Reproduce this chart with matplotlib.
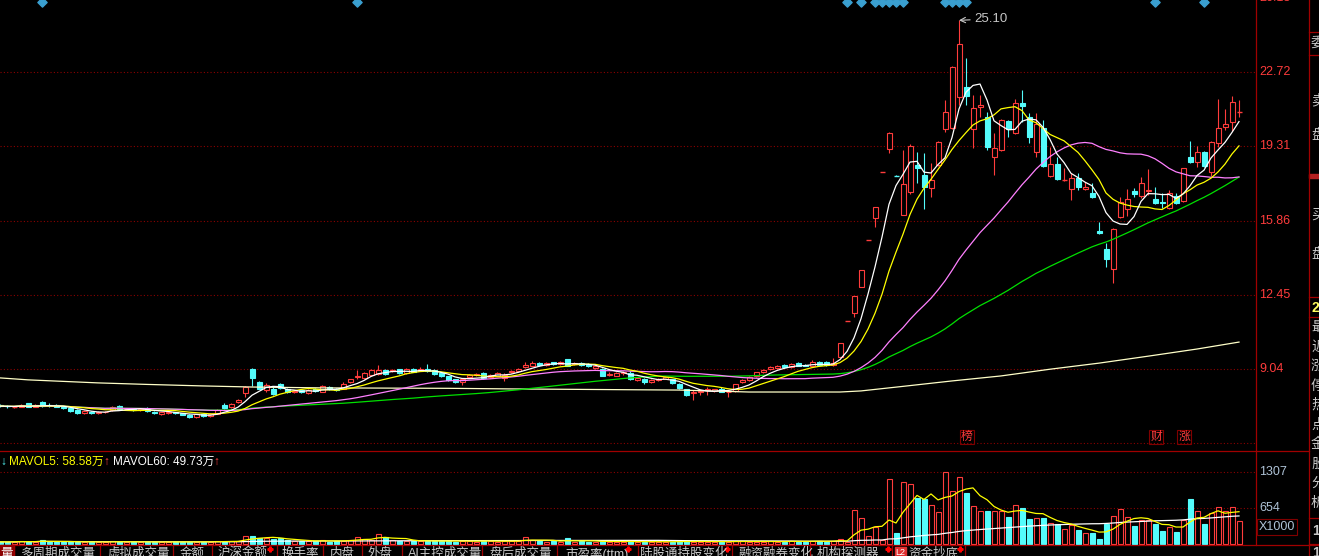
import matplotlib
matplotlib.use('Agg')
import matplotlib.pyplot as plt
from matplotlib.patches import Rectangle
import pandas as pd

plt.rcParams['font.family'] = ['Liberation Sans', 'Noto Sans CJK SC', 'DejaVu Sans']

# daily K-line data (price)
opens = [7.36, 7.33, 7.28, 7.30, 7.46, 7.31, 7.50, 7.40, 7.39, 7.31,
         7.25, 7.16, 7.02, 7.06, 7.00, 7.04, 7.14, 7.32, 7.18, 7.20,
         7.16, 7.22, 7.08, 6.98, 7.02, 7.05, 7.00, 6.94, 6.84, 6.96,
         6.88, 6.98, 7.36, 7.27, 7.50, 7.94, 9.05, 8.46, 8.06, 8.14,
         8.36, 8.14, 7.97, 8.06, 7.92, 8.12, 8.00, 8.20, 8.14, 8.14,
         8.42, 8.66, 8.64, 8.78, 8.80, 8.98, 8.96, 9.02, 8.84, 9.04,
         8.96, 9.06, 9.00, 8.86, 8.70, 8.56, 8.44, 8.68, 8.76, 8.86,
         8.68, 8.74, 8.64, 8.88, 8.96, 9.12, 9.20, 9.30, 9.22, 9.34,
         9.28, 9.50, 9.28, 9.32, 9.26, 9.08, 9.06, 8.76, 8.74, 8.84,
         8.86, 8.52, 8.60, 8.44, 8.52, 8.60, 8.56, 8.36, 8.12, 7.94,
         7.96, 8.06, 8.04, 8.14, 7.96, 8.04, 8.44, 8.54, 8.72, 8.88,
         9.02, 9.08, 9.22, 9.14, 9.30, 9.24, 9.20, 9.38, 9.36, 9.24,
         9.60, 11.25, 11.60, 12.80, 14.98, 15.99, 18.13, 19.18, 17.95, 16.15,
         17.19, 18.44, 17.98, 17.38, 18.44, 20.09, 20.14, 21.57, 22.03, 20.09,
         21.12, 20.65, 18.80, 19.13, 20.46, 19.91, 21.29, 20.65, 19.04, 20.14,
         17.93, 18.48, 17.74, 17.33, 17.84, 17.33, 17.15, 15.40, 14.57, 13.65,
         16.04, 16.41, 17.24, 17.01, 17.22, 16.87, 16.72, 16.46, 17.01, 16.78,
         18.80, 18.57, 19.04, 18.11, 19.45, 20.18, 20.42, 20.86]
highs = [7.42, 7.40, 7.34, 7.42, 7.47, 7.42, 7.56, 7.46, 7.44, 7.34,
         7.30, 7.20, 7.14, 7.10, 7.10, 7.12, 7.33, 7.36, 7.26, 7.24,
         7.26, 7.28, 7.12, 7.08, 7.08, 7.08, 7.03, 6.96, 6.99, 7.00,
         7.00, 7.18, 7.47, 7.46, 7.66, 8.26, 9.08, 8.50, 8.38, 8.20,
         8.40, 8.18, 8.08, 8.10, 8.12, 8.16, 8.30, 8.24, 8.18, 8.42,
         8.60, 9.00, 8.88, 9.02, 9.22, 9.04, 9.04, 9.06, 9.08, 9.08,
         9.12, 9.26, 9.02, 8.90, 8.72, 8.58, 8.62, 8.80, 8.84, 8.92,
         8.80, 8.90, 8.84, 9.00, 9.10, 9.36, 9.40, 9.34, 9.34, 9.38,
         9.42, 9.52, 9.36, 9.36, 9.30, 9.20, 9.10, 8.90, 8.90, 8.96,
         8.94, 8.66, 8.62, 8.56, 8.64, 8.72, 8.58, 8.40, 8.14, 8.08,
         8.08, 8.20, 8.14, 8.20, 8.04, 8.36, 8.58, 8.70, 8.92, 9.04,
         9.18, 9.22, 9.26, 9.30, 9.36, 9.28, 9.44, 9.42, 9.40, 9.56,
         10.25, 11.25, 12.38, 13.62, 14.98, 16.48, 18.13, 19.94, 17.96, 19.12,
         19.40, 19.04, 18.99, 18.53, 19.55, 21.43, 23.00, 25.10, 23.36, 21.66,
         21.66, 20.88, 19.91, 20.55, 20.51, 21.48, 21.89, 20.83, 20.83, 20.51,
         19.27, 18.80, 18.30, 18.07, 18.07, 17.65, 17.61, 15.81, 14.84, 15.52,
         16.96, 17.33, 17.38, 17.88, 18.25, 17.42, 17.15, 17.29, 17.15, 18.32,
         19.54, 19.31, 19.08, 19.54, 21.48, 21.02, 21.61, 21.43]
lows = [7.30, 7.25, 7.25, 7.27, 7.28, 7.28, 7.30, 7.30, 7.28, 7.22,
        7.08, 6.98, 6.98, 6.95, 6.96, 7.00, 7.12, 7.14, 7.14, 7.12,
        7.12, 7.05, 6.96, 6.90, 6.98, 6.96, 6.90, 6.76, 6.80, 6.85,
        6.85, 6.95, 7.22, 7.24, 7.46, 7.75, 8.26, 8.10, 8.00, 7.86,
        8.12, 7.94, 7.93, 7.94, 7.88, 8.00, 7.96, 8.08, 8.02, 8.10,
        8.38, 8.60, 8.58, 8.72, 8.76, 8.78, 8.92, 8.82, 8.80, 8.90,
        8.94, 8.90, 8.76, 8.66, 8.48, 8.38, 8.30, 8.64, 8.72, 8.58,
        8.62, 8.70, 8.50, 8.84, 8.92, 9.08, 9.16, 9.20, 9.18, 9.22,
        9.24, 9.18, 9.24, 9.20, 9.12, 9.02, 8.70, 8.70, 8.70, 8.78,
        8.52, 8.48, 8.36, 8.40, 8.48, 8.56, 8.36, 8.12, 7.80, 7.62,
        7.84, 7.82, 8.00, 7.96, 7.74, 8.00, 8.40, 8.50, 8.68, 8.84,
        8.98, 9.04, 9.10, 9.10, 9.16, 9.16, 9.16, 9.20, 9.20, 9.20,
        9.58, 11.25, 11.45, 12.80, 14.98, 15.58, 18.13, 18.98, 17.92, 16.15,
        17.10, 17.61, 16.41, 16.96, 18.40, 19.96, 20.10, 21.20, 21.20, 19.22,
        20.64, 19.13, 17.98, 19.10, 19.73, 19.88, 20.42, 19.45, 18.80, 18.35,
        17.88, 17.75, 17.70, 16.82, 17.28, 17.28, 16.92, 15.26, 13.74, 13.00,
        15.99, 16.09, 16.96, 16.92, 17.05, 16.66, 16.46, 16.41, 16.64, 16.72,
        18.53, 18.34, 18.34, 17.93, 19.27, 20.05, 20.00, 20.65]
closes = [7.33, 7.31, 7.31, 7.38, 7.30, 7.38, 7.34, 7.36, 7.31, 7.26,
          7.12, 7.02, 7.10, 7.00, 7.06, 7.08, 7.29, 7.18, 7.20, 7.16,
          7.22, 7.10, 7.01, 7.04, 7.05, 7.00, 6.93, 6.82, 6.96, 6.88,
          6.96, 7.15, 7.26, 7.42, 7.62, 8.22, 8.64, 8.14, 8.30, 7.90,
          8.16, 7.96, 8.04, 7.98, 8.06, 8.03, 8.26, 8.12, 8.06, 8.36,
          8.56, 8.74, 8.84, 8.98, 8.98, 8.82, 9.00, 8.86, 9.02, 8.92,
          9.06, 8.94, 8.80, 8.70, 8.52, 8.42, 8.58, 8.76, 8.80, 8.64,
          8.76, 8.86, 8.78, 8.96, 9.06, 9.24, 9.32, 9.24, 9.30, 9.26,
          9.36, 9.20, 9.32, 9.24, 9.16, 9.16, 8.72, 8.80, 8.86, 8.90,
          8.58, 8.62, 8.44, 8.52, 8.60, 8.68, 8.40, 8.16, 7.84, 7.98,
          8.04, 8.10, 8.10, 8.00, 8.00, 8.34, 8.52, 8.66, 8.88, 9.00,
          9.14, 9.18, 9.14, 9.26, 9.20, 9.20, 9.38, 9.24, 9.22, 9.30,
          10.23, 11.25, 12.38, 13.62, 14.98, 16.48, 18.13, 19.92, 17.94, 17.56,
          19.31, 18.30, 17.42, 17.75, 19.50, 20.88, 22.95, 24.01, 21.61, 21.06,
          21.20, 19.27, 19.22, 20.51, 20.09, 21.29, 21.15, 19.73, 20.32, 18.39,
          18.48, 17.79, 17.76, 17.84, 17.42, 17.42, 16.96, 15.30, 14.11, 15.49,
          16.73, 16.87, 17.10, 17.61, 17.28, 16.69, 16.68, 17.15, 16.69, 18.30,
          18.57, 19.04, 18.39, 19.50, 20.14, 20.32, 21.34, 20.88]
# volume in x1000
volumes = [40, 35, 45, 50, 40, 45, 70, 45, 40, 35,
           40, 45, 35, 40, 30, 35, 55, 45, 35, 30,
           35, 40, 45, 35, 30, 30, 40, 45, 40, 35,
           35, 50, 45, 50, 60, 150, 150, 110, 100, 95,
           100, 70, 55, 50, 55, 50, 75, 45, 50, 60,
           80, 130, 90, 70, 180, 130, 70, 60, 55, 50,
           55, 60, 50, 55, 50, 45, 60, 55, 45, 60,
           50, 45, 55, 50, 60, 120, 70, 55, 45, 50,
           45, 100, 45, 50, 45, 40, 60, 40, 45, 40,
           50, 40, 45, 40, 35, 40, 45, 50, 55, 45,
           40, 45, 40, 45, 40, 55, 50, 45, 40, 45,
           50, 45, 40, 60, 45, 40, 60, 55, 45, 55,
           90, 30, 610, 470, 145, 310, 70, 1180, 200, 1120,
           1080, 830, 810, 700, 580, 1307, 960, 1210, 925, 690,
           600, 590, 600, 600, 490, 710, 650, 450, 470, 470,
           380, 360, 270, 340, 250, 200, 200, 90, 360, 500,
           630, 490, 330, 430, 430, 360, 230, 300, 220, 430,
           810, 600, 360, 560, 680, 590, 680, 420]
# long moving average (MA250) read at a few points
ma250_idx = [0, 4, 9, 14, 21, 29, 36, 46, 64, 74, 97, 107, 120, 123, 129, 136, 143, 150, 157, 164, 171, 177]
ma250_val = [8.63, 8.54, 8.47, 8.40, 8.33, 8.26, 8.21, 8.17, 8.15, 8.12, 8.07, 7.98, 7.98, 8.03, 8.24, 8.49, 8.72, 9.03, 9.31, 9.63, 9.96, 10.28]
signal_idx = [6, 51, 121, 123, 125, 126, 127, 128, 129, 135, 136, 137, 138, 165, 172]
price_grid = [26.13, 22.72, 19.31, 15.86, 12.45, 9.04, 5.63]
vol_grid = [1307, 654]
tabs = ['多周期成交量', '虚拟成交量', '金额', '沪深金额', '换手率', '内盘', '外盘',
        'AI主控成交量', '盘后成交量', '市盈率(ttm)', '陆股通持股变化', '融资融券变化',
        '机构探测器', '资金抄底']
tab_x = [20, 107, 180, 218, 282, 330, 368, 408, 490, 565, 640, 738, 817, 908]
tab_sep = [14, 100, 173, 212, 277, 323, 362, 402, 482, 557, 638, 732, 810, 892, 965]
tab_dots = [270, 628, 727, 888, 960]
sidebar = ['委', '卖', '盘', '买', '盘']
sidebar_y = [44, 100, 135, 215, 254]

RED = '#FF3C3C'
CYAN = '#54FCFC'
GRID = '#8C0000'
FRAME = '#A00000'
W, H = 1319, 556
n = len(closes)

fig = plt.figure(figsize=(W / 100, H / 100), dpi=100, facecolor='black')
ax = fig.add_axes([0, 1 - 451 / H, 1256 / W, 451 / H], facecolor='black')
axv = fig.add_axes([0, 1 - 545 / H, 1256 / W, 94 / H], facecolor='black')
ov = fig.add_axes([0, 0, 1, 1])
ov.set_xlim(0, W)
ov.set_ylim(H, 0)
ov.patch.set_alpha(0)
for a in (ax, axv, ov):
    a.axis('off')

xmax = 1256 / 7
ax.set_xlim(0, xmax)
ax.set_ylim(5.263, 26.036)
axv.set_xlim(0, xmax)
axv.set_ylim(-18, 1687)

for p in price_grid:
    ax.axhline(p, color=GRID, lw=0.8, ls=(0, (1, 2)), zorder=1)
for v in vol_grid:
    axv.axhline(v, color=GRID, lw=0.8, ls=(0, (1, 2)), zorder=1)

# candles
bw = 5 / 7
for i in range(n):
    o, h, l, c = opens[i], highs[i], lows[i], closes[i]
    up = c >= o
    col = RED if up else CYAN
    ax.vlines(i, l, h, color=col, lw=0.8, zorder=2)
    lo, hi = min(o, c), max(o, c)
    if hi - lo < 0.03:
        ax.hlines((o + c) / 2, i - bw / 2, i + bw / 2, color=col, lw=1.0, zorder=3)
    else:
        ax.add_patch(Rectangle((i - bw / 2, lo), bw, hi - lo, facecolor='black' if up else CYAN,
                               edgecolor=col, lw=0.8, zorder=3))
    vol = volumes[i]
    axv.add_patch(Rectangle((i - bw / 2, 0), bw, vol, facecolor='black' if up else CYAN,
                            edgecolor=col, lw=0.8, zorder=2))

s = pd.Series(closes)
idx = list(range(n))
ax.plot(ma250_idx, ma250_val, color='#FFFFC8', lw=0.9, zorder=4)
ax.plot(idx, s.rolling(60, min_periods=1).mean(), color='#00E000', lw=0.9, zorder=4)
ax.plot(idx, s.rolling(30, min_periods=1).mean(), color='#FF80FF', lw=0.9, zorder=4)
ax.plot(idx, s.rolling(10, min_periods=1).mean(), color='#FFFF00', lw=0.9, zorder=4)
ax.plot(idx, s.rolling(5, min_periods=1).mean(), color='white', lw=0.9, zorder=4)

vs = pd.Series(volumes)
axv.plot(idx, vs.rolling(60, min_periods=1).mean(), color='white', lw=0.9, zorder=3)
axv.plot(idx, vs.rolling(5, min_periods=1).mean(), color='#FFFF00', lw=0.9, zorder=3)

# high marker
hi_i = highs.index(max(highs))
ax.annotate('%.2f' % max(highs), xy=(hi_i, max(highs)), xytext=(11, 1), textcoords='offset points',
            color='#C8C8C8', fontsize=9.5, va='center', ha='left',
            arrowprops=dict(arrowstyle='->', color='#C8C8C8', lw=0.8, shrinkA=1, shrinkB=0))

# signal diamonds along the top
ov.scatter([7 * i for i in signal_idx], [2] * len(signal_idx), marker='D', s=22, color='#3A9FD0', zorder=6)

# event tags at the bottom of the price panel
for t, x in [('榜', 967), ('财', 1156), ('涨', 1184)]:
    ov.text(x, 437, t, color=RED, fontsize=8.5, ha='center', va='center',
            bbox=dict(boxstyle='square,pad=0.1', fc='none', ec='#800000', lw=0.8))

# frame lines
def hline(y, x0, x1, c=FRAME):
    ov.plot([x0, x1], [y, y], color=c, lw=0.9)

def vline(x, y0, y1, c=FRAME):
    ov.plot([x, x], [y0, y1], color=c, lw=0.9)

vline(1256, 0, 545)
hline(451, 0, 1309)
hline(545, 0, 1319)
vline(1309, 0, 556)
for y in [32, 55, 297, 317, 518, 544]:
    hline(y, 1309, 1319)

# right axis labels
for p in price_grid[:-1]:
    y = (26.036 - p) / 0.04606
    ov.text(1259, y, '%.2f' % p, color=RED, fontsize=9, va='center', ha='left')
for v in vol_grid:
    y = 544 - v / 18.14
    ov.text(1259, y, str(v), color='#AFC3D7', fontsize=9, va='center', ha='left')
ov.text(1259, 527, 'X1000', color='#AFC3D7', fontsize=9, va='center', ha='left',
        bbox=dict(boxstyle='square,pad=0.15', fc='none', ec='#800000', lw=0.8))

# volume legend
ov.text(0, 462, '↓', color=CYAN, fontsize=8.5, va='center', ha='left')
ov.text(9, 462, 'MAVOL5: 58.58万', color='#FFFF00', fontsize=8.5, va='center', ha='left')
ov.text(103, 462, '↑', color=RED, fontsize=8.5, va='center', ha='left')
ov.text(113, 462, 'MAVOL60: 49.73万', color='white', fontsize=8.5, va='center', ha='left')
ov.text(213, 462, '↑', color=RED, fontsize=8.5, va='center', ha='left')

# sidebar
for t, y in zip(sidebar, sidebar_y):
    ov.text(1311, y, t, color='#C8C8C8', fontsize=10, va='center', ha='left')
ov.add_patch(Rectangle((1309, 174), 10, 4, color='#B42020'))
ov.text(1312, 308, '2', color='#FFFF60', fontsize=10, va='center', ha='left', fontweight='bold')
for k, t in enumerate('最近涨停热点金股分析'):
    ov.text(1311, 327 + 19.5 * k, t, color='#C8C8C8', fontsize=10, va='center', ha='left')
ov.text(1312, 531, '1', color='#C8C8C8', fontsize=10, va='center', ha='left', fontweight='bold')
ov.text(1312, 553, '1', color='#C8C8C8', fontsize=10, va='center', ha='left', fontweight='bold')

# tab row
ov.add_patch(Rectangle((0, 545), 14, 11, color='#8C0000'))
ov.text(0, 547.5, '量', color='white', fontsize=9, va='top', ha='left')
for t, x in zip(tabs, tab_x):
    ov.text(x, 547.5, t, color='#C8C8C8', fontsize=9, va='top', ha='left')
for x in tab_sep:
    vline(x, 545, 556)
for x in tab_dots:
    ov.plot([x], [549], marker='P', color='red', ms=3.5)
ov.add_patch(Rectangle((895, 547), 11, 9, color='#E03030'))
ov.text(900.5, 548, 'L2', color='white', fontsize=6.5, va='top', ha='center')

fig.savefig('out.png', dpi=100, facecolor='black')
